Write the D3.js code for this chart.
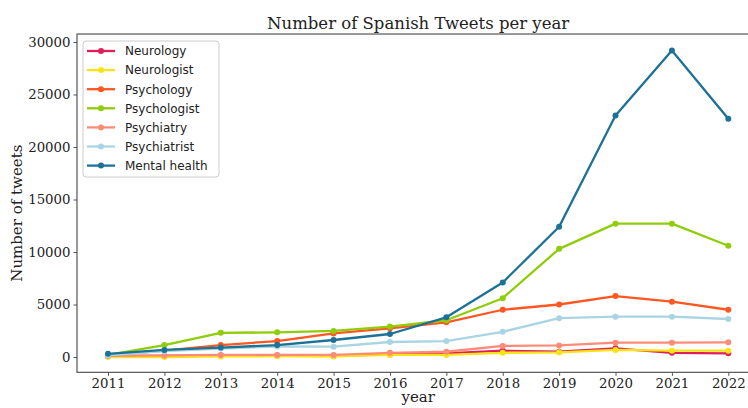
<!DOCTYPE html>
<html>
<head>
<meta charset="utf-8">
<script src="https://cdn.jsdelivr.net/npm/d3@7"></script>
<style>
  html, body { margin: 0; padding: 0; background: #fff; }
  svg { display: block; }
</style>
</head>
<body>
<svg id="chart" width="748" height="408"></svg>
<script>
// Yearly counts of Spanish-language tweets per search term
const years = [2011, 2012, 2013, 2014, 2015, 2016, 2017, 2018, 2019, 2020, 2021, 2022];
const seriesNames = ["Neurology", "Neurologist", "Psychology", "Psychologist", "Psychiatry", "Psychiatrist", "Mental health"];
const neurology    = [100, 100, 150, 150, 100, 250, 350, 600, 500, 830, 400, 350];
const neurologist  = [0, 0, 50, 80, 50, 200, 200, 400, 450, 670, 600, 600];
const psychology   = [150, 600, 1140, 1520, 2250, 2730, 3300, 4500, 5000, 5800, 5270, 4500];
const psychologist = [200, 1140, 2300, 2350, 2480, 2900, 3500, 5600, 10300, 12700, 12700, 10600];
const psychiatry   = [100, 150, 200, 200, 200, 400, 500, 1050, 1100, 1360, 1360, 1400];
const psychiatrist = [150, 550, 800, 1000, 980, 1430, 1520, 2400, 3700, 3840, 3840, 3620];
const mentalHealth = [300, 670, 900, 1140, 1620, 2190, 3780, 7100, 12400, 23000, 29200, 22700];
const yTicks = [0, 5000, 10000, 15000, 20000, 25000, 30000];
const colors = ["#e01e5a", "#f7e414", "#ff5722", "#8fcc0a", "#fc8c78", "#a9d5e2", "#1c7196"];

const allSeries = [neurology, neurologist, psychology, psychologist, psychiatry, psychiatrist, mentalHealth];

const svg = d3.select("#chart");

const x = d3.scaleLinear().domain([2011, 2022]).range([108, 728.3]);
const y = d3.scaleLinear().domain([0, 30000]).range([357, 42]);

// axes frame with 5% padding around the data range
const pad = (2022 - 2011) * 0.05;
const xMin = x(2011 - pad), xMax = x(2022 + pad);
const yMin = y(-1460), yMax = y(30760);

const frameColor = "#555";
const serif = "'DejaVu Serif', serif";

// y axis
const yAxis = d3.axisLeft(y).tickValues(yTicks).tickSize(3.5).tickPadding(3).tickFormat(d3.format("d"));
const gy = svg.append("g").attr("transform", `translate(${xMin},0)`).call(yAxis);
gy.select(".domain").remove();
gy.selectAll(".tick line").attr("stroke", frameColor);
gy.selectAll(".tick text").attr("font-family", serif).attr("font-size", 13.3).attr("fill", "#222");

// x axis
const xAxis = d3.axisBottom(x).tickValues(years).tickSize(3.5).tickPadding(3).tickFormat(d3.format("d"));
const gx = svg.append("g").attr("transform", `translate(0,${yMin})`).call(xAxis);
gx.select(".domain").remove();
gx.selectAll(".tick line").attr("stroke", frameColor);
gx.selectAll(".tick text").attr("font-family", serif).attr("font-size", 13.3).attr("fill", "#222");

// spines
svg.append("rect")
  .attr("x", xMin).attr("y", yMax)
  .attr("width", xMax - xMin).attr("height", yMin - yMax)
  .attr("fill", "none").attr("stroke", frameColor).attr("stroke-width", 1.2);

// lines and markers
const line = d3.line().x((d, i) => x(years[i])).y(d => y(d));
allSeries.forEach((vals, k) => {
  const g = svg.append("g");
  g.append("path").datum(vals)
    .attr("d", line)
    .attr("fill", "none")
    .attr("stroke", colors[k])
    .attr("stroke-width", 2.3)
    .attr("stroke-linejoin", "round");
  g.selectAll("circle").data(vals).join("circle")
    .attr("cx", (d, i) => x(years[i]))
    .attr("cy", d => y(d))
    .attr("r", 3)
    .attr("fill", colors[k]);
});

// title and axis labels
svg.append("text")
  .attr("x", (xMin + xMax) / 2).attr("y", 29)
  .attr("text-anchor", "middle")
  .attr("font-family", serif).attr("font-size", 16.5).attr("fill", "#222")
  .text("Number of Spanish Tweets per year");

svg.append("text")
  .attr("x", (xMin + xMax) / 2).attr("y", 402)
  .attr("text-anchor", "middle")
  .attr("font-family", serif).attr("font-size", 15).attr("fill", "#222")
  .text("year");

svg.append("text")
  .attr("transform", `translate(22,${(yMin + yMax) / 2 + 10}) rotate(-90)`)
  .attr("text-anchor", "middle")
  .attr("font-family", serif).attr("font-size", 15).attr("fill", "#222")
  .text("Number of tweets");

// legend
const leg = svg.append("g").attr("transform", "translate(83,41)");
leg.append("rect")
  .attr("width", 136).attr("height", 136).attr("rx", 3)
  .attr("fill", "#fff").attr("fill-opacity", 0.9)
  .attr("stroke", "#ccc");
seriesNames.forEach((name, k) => {
  const cy = 10 + k * 19.1;
  leg.append("line").attr("x1", 4).attr("x2", 32).attr("y1", cy).attr("y2", cy)
    .attr("stroke", colors[k]).attr("stroke-width", 2.3);
  leg.append("circle").attr("cx", 18).attr("cy", cy).attr("r", 3).attr("fill", colors[k]);
  leg.append("text").attr("x", 42).attr("y", cy + 4.3)
    .attr("font-family", "'DejaVu Sans', sans-serif").attr("font-size", 12).attr("fill", "#222")
    .text(name);
});
</script>
</body>
</html>
